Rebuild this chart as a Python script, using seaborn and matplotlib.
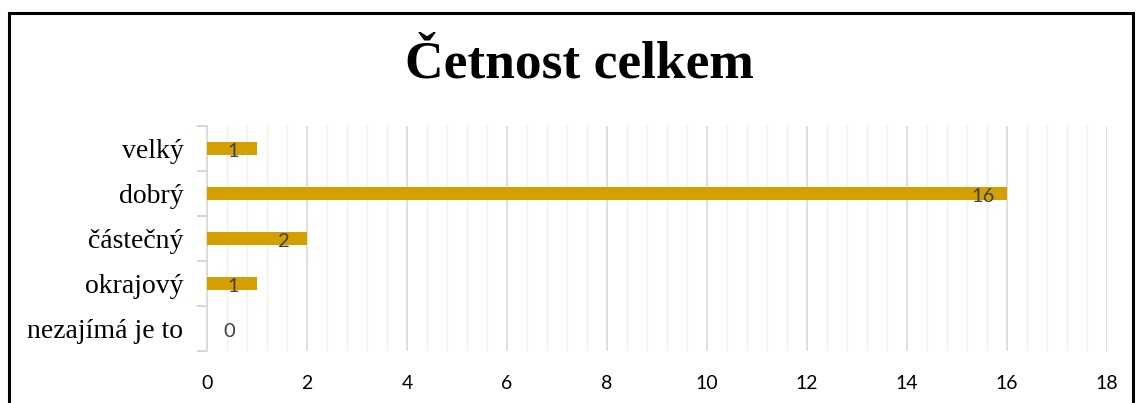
import matplotlib
matplotlib.use("Agg")
import matplotlib.pyplot as plt
import seaborn as sns
import pandas as pd
import numpy as np
from matplotlib.patches import Rectangle
from matplotlib.ticker import MultipleLocator, FixedLocator

categories = ["velký", "dobrý", "částečný", "okrajový", "nezajímá je to"]
values = [1, 16, 2, 1, 0]
title = "Četnost celkem"
xticks = [0, 2, 4, 6, 8, 10, 12, 14, 16, 18]

sns.set_theme(style="white")
plt.rcParams['font.family'] = ['Lato', 'DejaVu Sans']

df = pd.DataFrame({"cat": categories, "val": values})

fig = plt.figure(figsize=(11.36, 4.03), dpi=100)
ax = fig.add_axes([207/1136, 1 - 351/403, 900/1136, 225/403])

sns.barplot(data=df, x="val", y="cat", orient="h", color="#D4A000",
            saturation=1, width=0.28, linewidth=0, ax=ax, zorder=3)

ax.set_xlim(0, 18)
ax.set_ylim(4.5, -0.5)
ax.xaxis.set_major_locator(FixedLocator(xticks))
ax.xaxis.set_minor_locator(MultipleLocator(0.4))
ax.grid(which="major", axis="x", color="#d9d9d9", lw=1.2, zorder=0)
ax.grid(which="minor", axis="x", color="#efefef", lw=1.0, zorder=0)
ax.set_axisbelow(True)
ax.set_xlabel("")
ax.set_ylabel("")

for s in ["top", "right", "bottom"]:
    ax.spines[s].set_visible(False)
ax.spines["left"].set_color("#d9d9d9")
ax.spines["left"].set_linewidth(1.2)

ax.tick_params(axis="x", which="both", length=0, pad=17, labelsize=14,
               labelcolor="#000000")
for lab in ax.get_xticklabels():
    lab.set_family(['Lato', 'DejaVu Sans'])

ax.set_yticks(range(len(categories)))
ax.set_yticklabels(categories, family=['Liberation Serif'], fontsize=20, color="#000000")
ax.tick_params(axis="y", which="major", left=True, length=0, pad=17)
ax.yaxis.set_minor_locator(FixedLocator(np.arange(-0.5, len(categories), 1.0)))
ax.tick_params(axis="y", which="minor", left=True, length=7, width=1.2,
               color="#cfcfcf", direction="out")

for i, v in enumerate(values):
    ax.text(max(v - 0.47, 0.44), i + 0.06, str(v), ha="center", va="center",
            fontsize=14.5, color="#404040", family=['Lato', 'DejaVu Sans'], zorder=5)

fig.text(579/1136, 1 - 64/403, title, ha="center", va="center",
         fontsize=38.5, fontweight="bold", family=['Liberation Serif'], color="#000000")

rect = Rectangle((8.5/1136, -0.2), (1133 - 8.5)/1136, 1.2 - 12.5/403,
                 transform=fig.transFigure, fill=False, edgecolor="#000000",
                 lw=2.2, clip_on=False)
fig.patches.append(rect)

fig.savefig("out.png", dpi=100)
